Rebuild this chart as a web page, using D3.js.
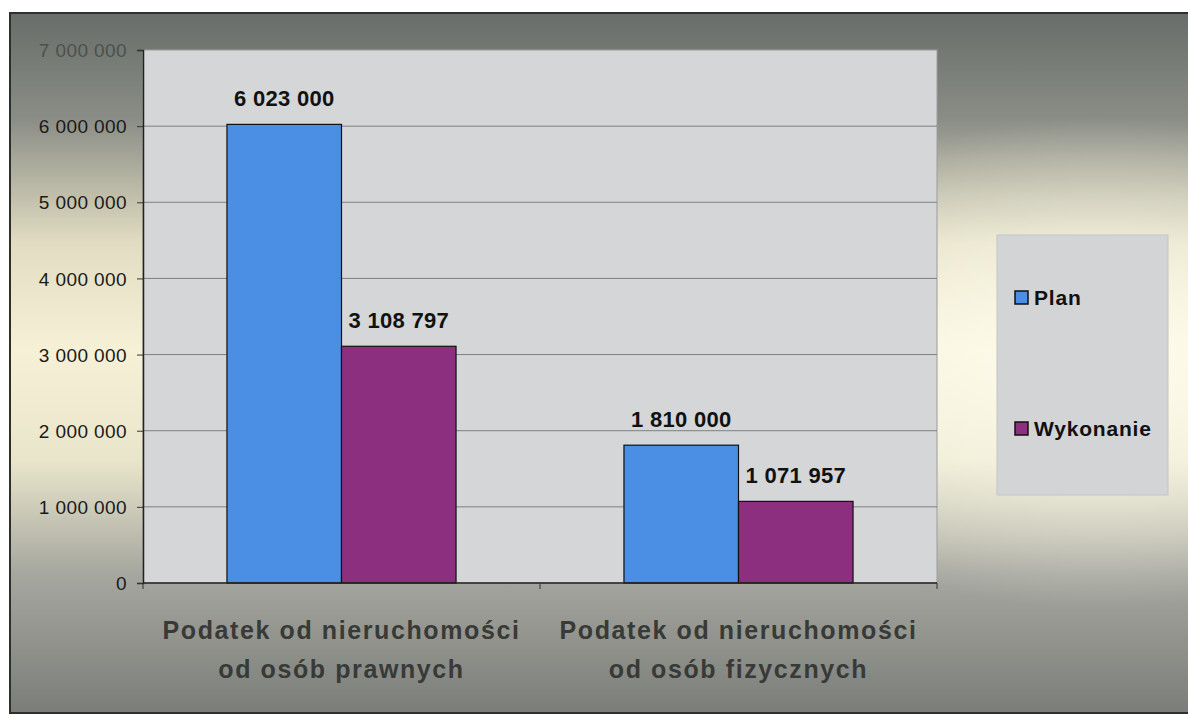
<!DOCTYPE html>
<meta charset="utf-8">
<style>
  body { margin: 0; background: #fff; }
  text { font-family: Arial, "Liberation Sans", sans-serif; }
</style>
<svg width="1188" height="715"></svg>
<script src="https://cdn.jsdelivr.net/npm/d3@7/dist/d3.min.js"></script>
<script>

var categories = [["Podatek od nieruchomości", "od osób prawnych"],
                  ["Podatek od nieruchomości", "od osób fizycznych"]];
var seriesNames = ["Plan", "Wykonanie"];
var planValues = [6023000, 1810000];
var wykonanieValues = [3108797, 1071957];
var yTicks = [0, 1000000, 2000000, 3000000, 4000000, 5000000, 6000000, 7000000];

var svg = d3.select("svg"),
    margin = {top: 50, right: 251, bottom: 132, left: 143},
    width = 1188 - margin.left - margin.right,
    height = 715 - margin.top - margin.bottom;

var colors = d3.scaleOrdinal().domain(seriesNames).range(["#4a8fe4", "#8c2f7e"]);
var fmt = function(v) { return d3.format(",")(v).replace(/,/g, " "); };

// background gradient of the scanned sheet
var defs = svg.append("defs");
var lg = defs.append("linearGradient").attr("id", "bg")
    .attr("x1", 0).attr("y1", 0).attr("x2", 0).attr("y2", 1);
[["0%", "#686d69"], ["15%", "#8a8d86"], ["33%", "#e2ddc2"], ["48%", "#f6f1d6"],
 ["64%", "#e9e5cb"], ["80%", "#a6a79f"], ["100%", "#7b7d79"]].forEach(function(s) {
  lg.append("stop").attr("offset", s[0]).attr("stop-color", s[1]);
});
var rg = defs.append("radialGradient").attr("id", "glow")
    .attr("cx", 0.92).attr("cy", 0.5).attr("r", 0.35);
rg.append("stop").attr("offset", "0%").attr("stop-color", "#fffdf0").attr("stop-opacity", 0.9);
rg.append("stop").attr("offset", "100%").attr("stop-color", "#fffdf0").attr("stop-opacity", 0);

svg.append("rect").attr("x", 10).attr("y", 13).attr("width", 1180).attr("height", 700)
    .attr("fill", "url(#bg)");
svg.append("rect").attr("x", 10).attr("y", 13).attr("width", 1180).attr("height", 700)
    .attr("fill", "url(#glow)");
svg.append("rect").attr("x", 10).attr("y", 13).attr("width", 1180).attr("height", 700)
    .attr("fill", "none").attr("stroke", "#2e302e").attr("stroke-width", 2);

var g = svg.append("g")
    .attr("transform", "translate(" + margin.left + "," + margin.top + ")");

var x0 = d3.scaleBand().domain(d3.range(categories.length)).range([0, width])
    .paddingInner(0.423).paddingOuter(0.2115);
var x1 = d3.scaleBand().domain(seriesNames).range([0, x0.bandwidth()]);
var y = d3.scaleLinear().domain([0, 7000000]).range([height, 0]);

// plot area
g.append("rect").attr("width", width).attr("height", height)
    .attr("fill", "#d4d6d8").attr("stroke", "#9a9c9c");

g.append("g").selectAll("line")
  .data(yTicks.slice(1, -1))
  .enter().append("line")
    .attr("x1", 0).attr("x2", width)
    .attr("y1", function(d) { return y(d); })
    .attr("y2", function(d) { return y(d); })
    .attr("stroke", "#7e8080").attr("stroke-width", 1);

var rows = categories.map(function(c, i) {
  return seriesNames.map(function(s) {
    return {cat: i, key: s, value: s === "Plan" ? planValues[i] : wykonanieValues[i]};
  });
});

var group = g.selectAll(".grp")
  .data(rows)
  .enter().append("g")
    .attr("class", "grp")
    .attr("transform", function(d, i) { return "translate(" + x0(i) + ",0)"; });

group.selectAll("rect")
  .data(function(d) { return d; })
  .enter().append("rect")
    .attr("x", function(d) { return x1(d.key); })
    .attr("y", function(d) { return y(d.value); })
    .attr("width", x1.bandwidth())
    .attr("height", function(d) { return height - y(d.value); })
    .attr("fill", function(d) { return colors(d.key); })
    .attr("stroke", "#111").attr("stroke-width", 1.2);

group.selectAll(".lbl")
  .data(function(d) { return d; })
  .enter().append("text")
    .attr("class", "lbl")
    .attr("x", function(d) { return x1(d.key) + x1.bandwidth() / 2; })
    .attr("y", function(d) { return y(d.value) - 18; })
    .attr("text-anchor", "middle")
    .style("font-size", "22px").style("font-weight", "bold")
    .style("letter-spacing", "0.3px")
    .attr("fill", "#111")
    .text(function(d) { return fmt(d.value); });

// y axis
var yAxis = g.append("g")
    .call(d3.axisLeft(y).tickValues(yTicks).tickFormat(fmt).tickSize(6).tickPadding(10));
yAxis.select(".domain").attr("stroke", "#222").attr("stroke-width", 1.5);
yAxis.selectAll(".tick line").attr("stroke", "#333");
yAxis.selectAll("text")
    .style("font-size", "19px").style("letter-spacing", "0.4px")
    .attr("fill", "#1a1a1a").attr("dy", "0.35em");
yAxis.selectAll(".tick").filter(function(d) { return d === 7000000; })
    .select("text").attr("fill", "#4c514d");

// x axis
g.append("line").attr("x1", 0).attr("x2", width).attr("y1", height).attr("y2", height)
    .attr("stroke", "#222").attr("stroke-width", 1.5);
g.append("g").selectAll("line")
  .data([0, width / 2, width])
  .enter().append("line")
    .attr("x1", function(d) { return d; }).attr("x2", function(d) { return d; })
    .attr("y1", height).attr("y2", height + 6)
    .attr("stroke", "#333");

var catLabel = g.selectAll(".cat")
  .data(categories)
  .enter().append("text")
    .attr("class", "cat")
    .attr("text-anchor", "middle")
    .style("font-size", "25px").style("font-weight", "bold")
    .style("letter-spacing", "1.6px")
    .attr("fill", "#383a38");
catLabel.selectAll("tspan")
  .data(function(d, i) { return d.map(function(t) { return {t: t, i: i}; }); })
  .enter().append("tspan")
    .attr("x", function(d) { return x0(d.i) + x0.bandwidth() / 2; })
    .attr("y", function(d, j) { return height + 56 + j * 39; })
    .text(function(d) { return d.t; });

// legend
var legend = svg.append("g").attr("transform", "translate(997,235)");
legend.append("rect").attr("width", 171).attr("height", 260)
    .attr("fill", "#d2d4d6").attr("stroke", "#c4c6c6");
var item = legend.selectAll(".item")
  .data(seriesNames)
  .enter().append("g")
    .attr("class", "item")
    .attr("transform", function(d, i) { return "translate(18," + (56 + i * 131) + ")"; });
item.append("rect").attr("width", 13).attr("height", 13)
    .attr("fill", function(d) { return colors(d); })
    .attr("stroke", "#111").attr("stroke-width", 1.5);
item.append("text").attr("x", 19).attr("y", 14)
    .style("font-size", "21px").style("font-weight", "bold")
    .style("letter-spacing", "0.8px")
    .attr("fill", "#111")
    .text(function(d) { return d; });

</script>
